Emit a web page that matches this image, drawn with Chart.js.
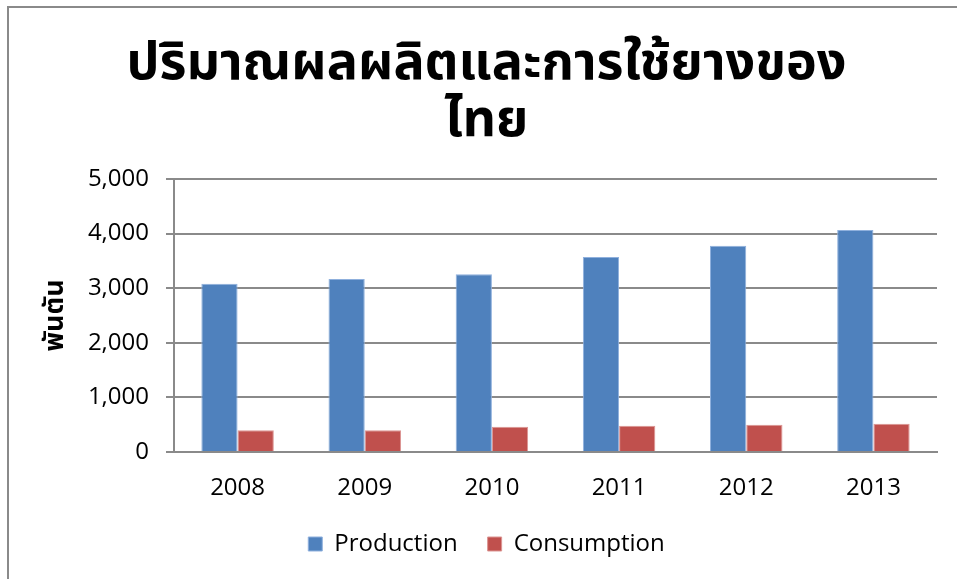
<!DOCTYPE html>
<html>
<head>
<meta charset="utf-8">
<script src="https://cdn.jsdelivr.net/npm/chart.js@4.4.0/dist/chart.umd.min.js"></script>
<style>
  html, body { margin: 0; padding: 0; background: #fff; overflow: hidden; }
  #frame {
    position: absolute; left: 7px; top: 6px; width: 1000px; height: 1000px;
    border-left: 2px solid #8a8a8a; border-top: 2px solid #8a8a8a;
  }
  #wrap { position: absolute; left: 0; top: 0; width: 957px; height: 579px; }
</style>
</head>
<body>
<div id="frame"></div>
<div id="wrap"><canvas id="rubber"></canvas></div>
<script>
const years = ["2008", "2009", "2010", "2011", "2012", "2013"];
const production = [3083, 3168, 3254, 3571, 3779, 4066];
const consumption = [397, 397, 464, 482, 500, 519];
const titleLines = ["ปริมาณผลผลิตและการใช้ยางของ", "ไทย"];
const yTitle = "พันตัน";

document.addEventListener("DOMContentLoaded", function () {
  const font = "'Open Sans', 'Noto Sans', sans-serif";
  const thaiFont = "Tahoma, 'Noto Sans Thai', 'Noto Sans', 'DejaVu Sans', sans-serif";

  const data = {
    labels: years,
    datasets: [
      {
        label: "Production",
        data: production,
        backgroundColor: "#4f81bd",
        borderColor: "#8fb0dd",
        borderWidth: 1,
      },
      {
        label: "Consumption",
        data: consumption,
        backgroundColor: "#c0504d",
        borderColor: "#dc9593",
        borderWidth: 1,
      },
    ],
  };

  const config = {
    type: "bar",
    data: data,
    options: {
      responsive: false,
      animation: false,
      layout: { padding: { left: 36, right: 20, top: 0, bottom: 13 } },
      datasets: { bar: { barPercentage: 1, categoryPercentage: 0.57 } },
      scales: {
        x: {
          grid: { display: false, drawTicks: false },
          border: { display: true, color: "#8a8a8a", width: 2 },
          ticks: { color: "#000", font: { family: font, size: 24 }, padding: 22 },
          afterFit: (scale) => { scale.height = 50; },
        },
        y: {
          min: 0,
          max: 5000,
          ticks: {
            stepSize: 1000,
            color: "#000",
            padding: 17,
            font: { family: font, size: 24 },
            callback: (v) => v.toLocaleString("en-US"),
          },
          grid: { color: "#8a8a8a", lineWidth: 2, tickLength: 8 },
          border: { color: "#8a8a8a", width: 2 },
          title: {
            display: true,
            text: yTitle,
            color: "#000",
            font: { family: thaiFont, size: 27, weight: "bold" },
            padding: { top: 5, bottom: 0 },
          },
          afterFit: (scale) => { scale.width = 138; },
        },
      },
      plugins: {
        title: {
          display: true,
          text: titleLines,
          color: "#000",
          font: { family: thaiFont, size: 52, weight: "bold", lineHeight: 1.115 },
          padding: { top: 39, bottom: 24 },
        },
        legend: {
          position: "bottom",
          labels: {
            color: "#000",
            boxWidth: 14,
            boxHeight: 14,
            padding: 30,
            font: { family: font, size: 24 },
          },
        },
        tooltip: { enabled: false },
      },
    },
  };

  const ctx = document.getElementById("rubber");
  ctx.width = 957;
  ctx.height = 579;
  new Chart(ctx, config);
});
</script>
</body>
</html>
